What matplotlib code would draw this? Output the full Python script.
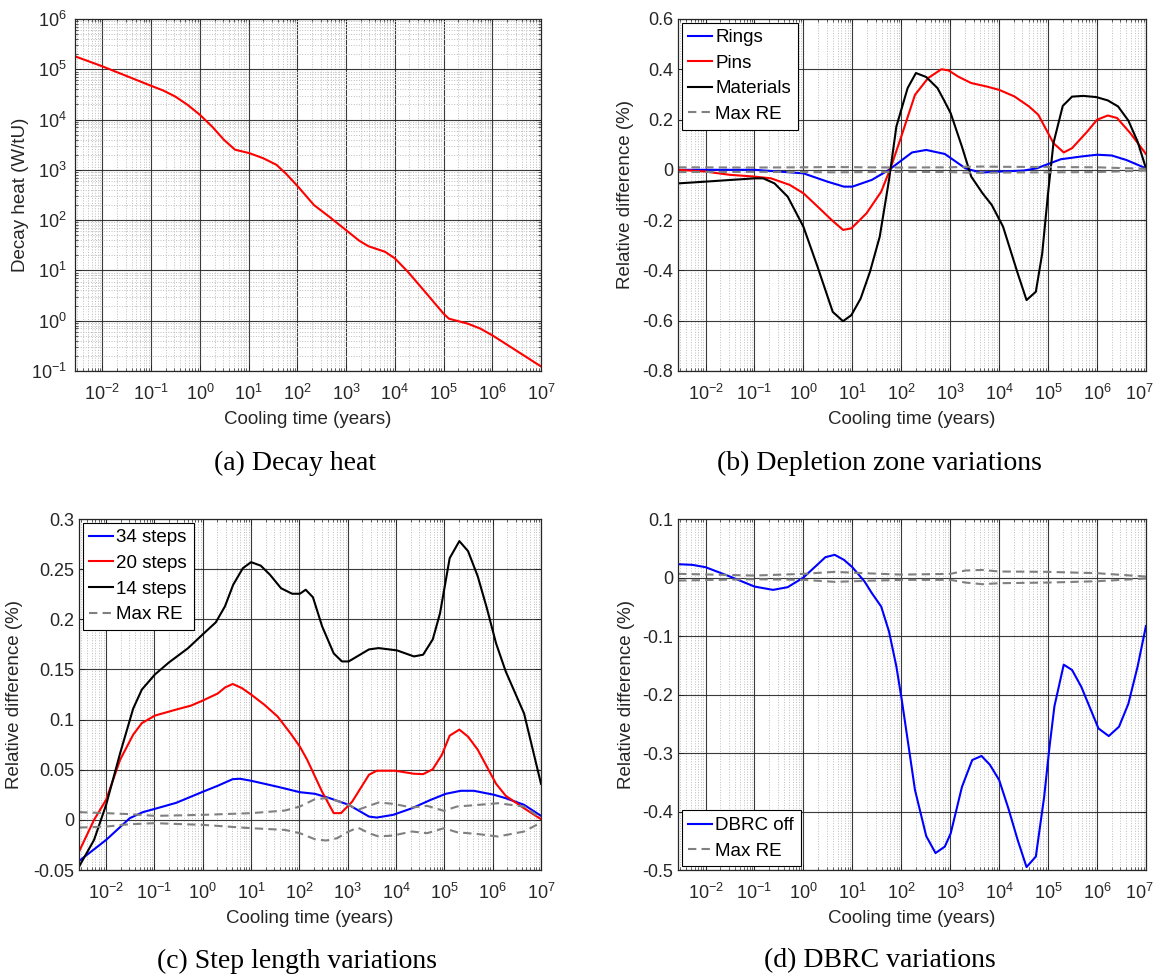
import numpy as np
import matplotlib
matplotlib.use("Agg")
import matplotlib.pyplot as plt
import matplotlib.transforms as mtransforms
from matplotlib.ticker import LogLocator, FixedLocator, FormatStrFormatter, NullFormatter

plt.rcParams['font.family'] = ['Liberation Sans', 'DejaVu Sans']
plt.rcParams['mathtext.fontset'] = 'custom'
plt.rcParams['mathtext.rm'] = 'Liberation Sans'
plt.rcParams['mathtext.it'] = 'Liberation Sans:italic'
plt.rcParams['axes.unicode_minus'] = False

# ---- (a) decay heat, log10 of time (years) and log10 of heat (W/tU)
a_logt = [-2.56, -2.0, -1.0, -0.76, -0.51, -0.25, 0.0, 0.25, 0.49, 0.72, 1.02, 1.3, 1.57,
          1.76, 2.01, 2.34, 2.65, 3.0, 3.27, 3.46, 3.8, 4.0, 4.27, 4.65, 5.0, 5.11, 5.5,
          5.75, 6.0, 6.42, 7.0]
a_logq = [5.256, 5.057, 4.67, 4.58, 4.46, 4.29, 4.094, 3.86, 3.60, 3.40, 3.33, 3.23, 3.10,
          2.93, 2.67, 2.30, 2.07, 1.80, 1.59, 1.48, 1.37, 1.24, 0.97, 0.54, 0.14, 0.04, -0.06,
          -0.155, -0.29, -0.55, -0.91]

# ---- (b) depletion zone variations (%)
rings_logt = [-2.56, -1.0, 0.0, 0.49, 0.83, 1.0, 1.4, 1.75, 2.22, 2.51, 2.89, 3.31, 3.62,
              4.0, 4.5, 4.77, 5.26, 5.68, 6.0, 6.3, 6.6, 7.0]
rings = [0.0, 0.0, -0.014, -0.047, -0.067, -0.067, -0.040, 0.0, 0.069, 0.079, 0.063, 0.006,
         -0.011, -0.007, -0.003, 0.006, 0.042, 0.053, 0.060, 0.057, 0.039, 0.006]

pins_logt = [-2.56, -2.0, -1.5, -1.0, -0.66, -0.28, 0.0, 0.29, 0.58, 0.81, 0.98, 1.29, 1.59,
             1.78, 2.0, 2.28, 2.55, 2.82, 2.97, 3.16, 3.43, 3.73, 4.0, 4.31, 4.61, 4.8, 5.11,
             5.32, 5.49, 5.8, 6.0, 6.22, 6.41, 6.68, 7.0]
pins = [0.0, -0.007, -0.020, -0.027, -0.034, -0.060, -0.093, -0.146, -0.200, -0.239, -0.233,
        -0.173, -0.087, 0.006, 0.132, 0.298, 0.365, 0.400, 0.395, 0.371, 0.345, 0.332, 0.318,
        0.292, 0.252, 0.219, 0.106, 0.069, 0.086, 0.152, 0.199, 0.216, 0.206, 0.146, 0.063]

mat_logt = [-2.56, -2.0, -1.0, -0.82, -0.59, -0.32, 0.0, 0.29, 0.6, 0.81, 0.98, 1.17, 1.36,
            1.56, 1.75, 1.9, 2.13, 2.3, 2.51, 2.74, 2.87, 3.01, 3.24, 3.43, 3.66, 3.85, 4.08,
            4.38, 4.56, 4.75, 4.88, 5.0, 5.11, 5.3, 5.49, 5.72, 5.99, 6.22, 6.43, 6.64, 6.83, 7.0]
materials = [-0.054, -0.047, -0.034, -0.034, -0.054, -0.107, -0.226, -0.386, -0.565, -0.602,
             -0.578, -0.512, -0.406, -0.266, -0.040, 0.172, 0.325, 0.385, 0.369, 0.325, 0.278,
             0.225, 0.092, -0.027, -0.093, -0.140, -0.226, -0.412, -0.518, -0.485, -0.333,
             -0.093, 0.106, 0.254, 0.291, 0.294, 0.289, 0.276, 0.252, 0.196, 0.112, 0.006]

b_re_logt = [-2.56, -1.0, 0.0, 0.64, 1.25, 2.01, 3.01, 3.31, 3.66, 4.0, 5.0, 6.0, 7.0]
b_re_up = [0.010, 0.009, 0.010, 0.011, 0.010, 0.009, 0.010, 0.012, 0.013, 0.012, 0.011, 0.010, 0.004]
b_re_lo = [-0.009, -0.008, -0.009, -0.010, -0.009, -0.008, -0.009, -0.011, -0.012, -0.011,
           -0.010, -0.009, -0.003]

# ---- (c) step length variations (%)
s34_logt = [-2.56, -2.0, -1.51, -1.24, -0.99, -0.55, 0.0, 0.31, 0.62, 0.77, 1.0, 1.55, 2.01,
            2.32, 2.63, 3.02, 3.44, 3.6, 3.94, 4.33, 4.72, 5.03, 5.34, 5.61, 6.03, 6.27, 6.65, 7.0]
s34 = [-0.041, -0.020, 0.0017, 0.0077, 0.011, 0.017, 0.028, 0.034, 0.0406, 0.041, 0.039,
       0.033, 0.0276, 0.026, 0.0216, 0.015, 0.0033, 0.0023, 0.005, 0.0116, 0.020, 0.026,
       0.029, 0.029, 0.025, 0.0216, 0.015, 0.004]

s20_logt = [-2.56, -2.25, -2.0, -1.71, -1.44, -1.26, -0.99, -0.55, -0.24, 0.0, 0.31, 0.46,
            0.62, 0.81, 1.0, 1.27, 1.55, 1.82, 2.01, 2.16, 2.47, 2.71, 2.86, 3.09, 3.44, 3.6,
            3.98, 4.37, 4.56, 4.76, 4.95, 5.11, 5.31, 5.49, 5.69, 5.88, 6.07, 6.27, 6.65, 7.0]
s20 = [-0.0316, 0.0, 0.020, 0.060, 0.085, 0.0965, 0.104, 0.110, 0.114, 0.119, 0.126, 0.132,
       0.1355, 0.1314, 0.125, 0.115, 0.103, 0.086, 0.073, 0.060, 0.028, 0.0067, 0.0067, 0.018,
       0.045, 0.049, 0.049, 0.046, 0.0456, 0.0505, 0.065, 0.084, 0.090, 0.083, 0.070, 0.053,
       0.036, 0.024, 0.0116, 0.0007]

s14_logt = [-2.56, -2.25, -2.0, -1.71, -1.44, -1.26, -0.99, -0.7, -0.31, 0.0, 0.27, 0.46,
            0.63, 0.83, 1.0, 1.2, 1.39, 1.62, 1.85, 2.01, 2.13, 2.28, 2.47, 2.71, 2.88, 3.02,
            3.44, 3.64, 4.02, 4.37, 4.56, 4.76, 4.91, 5.11, 5.31, 5.49, 5.69, 5.88, 6.07, 6.27,
            6.65, 7.0]
s14 = [-0.0466, -0.020, 0.015, 0.0665, 0.111, 0.130, 0.145, 0.157, 0.171, 0.185, 0.197,
       0.213, 0.2345, 0.251, 0.257, 0.2535, 0.2445, 0.231, 0.2255, 0.2255, 0.2295, 0.222,
       0.193, 0.166, 0.158, 0.158, 0.170, 0.1713, 0.169, 0.163, 0.1647, 0.180, 0.206, 0.261,
       0.278, 0.268, 0.243, 0.211, 0.176, 0.148, 0.106, 0.036]

c_re_logt = [-2.56, -2.0, -1.51, -0.99, 0.0, 1.0, 1.7, 2.01, 2.32, 2.55, 2.78, 3.02, 3.21,
             3.44, 3.64, 3.94, 4.33, 4.64, 4.99, 5.26, 5.72, 6.11, 6.65, 7.0]
c_re_up = [0.0077, 0.0067, 0.0057, 0.004, 0.005, 0.0067, 0.0093, 0.0133, 0.0206, 0.0216,
           0.019, 0.015, 0.010, 0.014, 0.0173, 0.016, 0.0123, 0.014, 0.009, 0.0133, 0.015,
           0.0166, 0.0133, 0.0017]
c_re_lo = [-0.0077, -0.0067, -0.0043, -0.0033, -0.005, -0.0083, -0.010, -0.0133, -0.0193,
           -0.0206, -0.0183, -0.0116, -0.0077, -0.0133, -0.0166, -0.0156, -0.0116, -0.0133,
           -0.0083, -0.0123, -0.0143, -0.0166, -0.0116, -0.0027]

# ---- (d) DBRC variations (%)
dbrc_logt = [-2.56, -2.27, -2.0, -1.5, -1.0, -0.62, -0.32, 0.0, 0.26, 0.45, 0.64, 0.83, 1.0,
             1.25, 1.4, 1.59, 1.75, 1.9, 2.01, 2.17, 2.28, 2.51, 2.7, 2.89, 3.01, 3.24, 3.45,
             3.64, 3.81, 4.0, 4.19, 4.38, 4.56, 4.75, 4.92, 5.03, 5.13, 5.32, 5.49, 5.68, 6.03,
             6.24, 6.45, 6.64, 6.83, 7.0]
dbrc = [0.0228, 0.0217, 0.0177, 0.0017, -0.0154, -0.0211, -0.0165, 0.0, 0.020, 0.0348,
        0.0388, 0.0302, 0.0177, -0.0068, -0.0268, -0.0496, -0.0924, -0.152, -0.209, -0.300,
        -0.363, -0.442, -0.471, -0.460, -0.4375, -0.358, -0.312, -0.305, -0.320, -0.346,
        -0.395, -0.449, -0.495, -0.477, -0.375, -0.289, -0.220, -0.149, -0.158, -0.187,
        -0.258, -0.271, -0.255, -0.216, -0.152, -0.083]

d_re_logt = [-2.56, -1.0, 0.0, 0.64, 1.25, 2.01, 3.01, 3.31, 3.66, 4.0, 5.0, 6.0, 7.0]
d_re_up = [0.0063, 0.0034, 0.0063, 0.0097, 0.0074, 0.005, 0.0063, 0.012, 0.013, 0.0103,
           0.0097, 0.0074, 0.0017]
d_re_lo = [-0.0051, -0.0029, -0.004, -0.0074, -0.0057, -0.004, -0.004, -0.0086, -0.0114,
           -0.0097, -0.0086, -0.0063, -0.0017]

xticks = [1e-2, 1e-1, 1e0, 1e1, 1e2, 1e3, 1e4, 1e5, 1e6, 1e7]
b_yticks = [-0.8, -0.6, -0.4, -0.2, 0, 0.2, 0.4, 0.6]
c_yticks = [-0.05, 0, 0.05, 0.1, 0.15, 0.2, 0.25, 0.3]
d_yticks = [-0.5, -0.4, -0.3, -0.2, -0.1, 0, 0.1]

dark = '#262626'
gray = '#808080'
FS = 13


def years(logt):
    return 10.0 ** np.array(logt)


def style_axis(ax, ylab, ylab_x, logy=False):
    ax.set_xscale('log')
    ax.set_xlim(1 / 365.0, 1e7)
    ax.xaxis.set_major_locator(FixedLocator(xticks))
    ax.xaxis.set_minor_locator(LogLocator(base=10, subs=np.arange(2, 10), numticks=30))
    ax.xaxis.set_minor_formatter(NullFormatter())
    ax.tick_params(which='both', direction='in', top=True, right=True, colors=dark,
                   labelsize=FS)
    ax.tick_params(which='major', length=4, width=0.7)
    ax.tick_params(which='minor', length=2, width=0.5)
    ax.tick_params(axis='x', which='major', pad=9)
    ax.grid(which='major', color=dark, lw=0.8, alpha=0.9)
    ax.grid(which='minor', axis='both' if logy else 'x', color='#bdbdbd', ls=':', lw=0.7)
    ax.set_axisbelow(True)
    for sp in ax.spines.values():
        sp.set_color(dark)
        sp.set_linewidth(0.9)
    ax.set_xlabel('Cooling time (years)', fontsize=13.5, color=dark, va='center')
    ax.xaxis.set_label_coords(0.5, -0.139)
    ax.set_ylabel(ylab, fontsize=13.5, color=dark, va='center')
    ax.yaxis.set_label_coords(ylab_x, 0.5)


def nudge_last_xlabel(ax, dx_px):
    # keep the 10^7 label inside the figure edge
    lab = ax.get_xticklabels()[-1]
    off = mtransforms.ScaledTranslation(dx_px / 100.0, 0, ax.figure.dpi_scale_trans)
    lab.set_transform(lab.get_transform() + off)


def add_legend(ax, loc):
    leg = ax.legend(loc=loc, fontsize=13.5, frameon=True, fancybox=False, edgecolor='k',
                    framealpha=1, handlelength=1.25, handletextpad=0.2, borderpad=0.35,
                    labelspacing=0.45, borderaxespad=0.2)
    leg.get_frame().set_linewidth(0.8)


fig = plt.figure(figsize=(11.56, 9.76), dpi=100)
ax_a = fig.add_axes([0.0649, 0.6199, 0.4031, 0.3607])
ax_b = fig.add_axes([0.5865, 0.6199, 0.4048, 0.3607])
ax_c = fig.add_axes([0.0683, 0.1086, 0.3997, 0.3596])
ax_d = fig.add_axes([0.5865, 0.1086, 0.4048, 0.3596])

# (a)
ax_a.plot(years(a_logt), 10.0 ** np.array(a_logq), color='r', lw=1.5)
ax_a.set_yscale('log')
ax_a.set_ylim(1e-1, 1e6)
ax_a.yaxis.set_major_locator(LogLocator(base=10, numticks=20))
ax_a.yaxis.set_minor_locator(LogLocator(base=10, subs=np.arange(2, 10), numticks=30))
ax_a.yaxis.set_minor_formatter(NullFormatter())
style_axis(ax_a, 'Decay heat (W/tU)', -0.116, logy=True)
ax_a.tick_params(axis='y', which='major', pad=6)

# (b)
ax_b.plot(years(rings_logt), rings, color='b', lw=1.5, label='Rings')
ax_b.plot(years(pins_logt), pins, color='r', lw=1.5, label='Pins')
ax_b.plot(years(mat_logt), materials, color='k', lw=1.5, label='Materials')
ax_b.plot(years(b_re_logt), b_re_up, color=gray, lw=1.5, ls='--', dashes=(4, 2.5), label='Max RE')
ax_b.plot(years(b_re_logt), b_re_lo, color=gray, lw=1.5, ls='--', dashes=(4, 2.5))
ax_b.set_ylim(-0.8, 0.6)
ax_b.yaxis.set_major_locator(FixedLocator(b_yticks))
ax_b.yaxis.set_major_formatter(FormatStrFormatter('%g'))
style_axis(ax_b, 'Relative difference (%)', -0.113)
add_legend(ax_b, 'upper left')

# (c)
ax_c.plot(years(s34_logt), s34, color='b', lw=1.5, label='34 steps')
ax_c.plot(years(s20_logt), s20, color='r', lw=1.5, label='20 steps')
ax_c.plot(years(s14_logt), s14, color='k', lw=1.5, label='14 steps')
ax_c.plot(years(c_re_logt), c_re_up, color=gray, lw=1.5, ls='--', dashes=(4, 2.5), label='Max RE')
ax_c.plot(years(c_re_logt), c_re_lo, color=gray, lw=1.5, ls='--', dashes=(4, 2.5))
ax_c.set_ylim(-0.05, 0.3)
ax_c.yaxis.set_major_locator(FixedLocator(c_yticks))
ax_c.yaxis.set_major_formatter(FormatStrFormatter('%g'))
style_axis(ax_c, 'Relative difference (%)', -0.139)
add_legend(ax_c, 'upper left')

# (d)
ax_d.plot(years(dbrc_logt), dbrc, color='b', lw=1.5, label='DBRC off')
ax_d.plot(years(d_re_logt), d_re_up, color=gray, lw=1.5, ls='--', dashes=(4, 2.5), label='Max RE')
ax_d.plot(years(d_re_logt), d_re_lo, color=gray, lw=1.5, ls='--', dashes=(4, 2.5))
ax_d.set_ylim(-0.5, 0.1)
ax_d.yaxis.set_major_locator(FixedLocator(d_yticks))
ax_d.yaxis.set_major_formatter(FormatStrFormatter('%g'))
style_axis(ax_d, 'Relative difference (%)', -0.111)
add_legend(ax_d, 'lower left')

fig.canvas.draw()
nudge_last_xlabel(ax_b, -7)
nudge_last_xlabel(ax_d, -7)

captions = ['(a) Decay heat', '(b) Depletion zone variations',
            '(c) Step length variations', '(d) DBRC variations']
cap_xy = [(0.255, 0.5256), (0.761, 0.5256), (0.257, 0.0154), (0.761, 0.0154)]
for txt, (cx, cy) in zip(captions, cap_xy):
    fig.text(cx, cy, txt, ha='center', va='center', fontsize=20,
             family=['Liberation Serif', 'DejaVu Serif'], color='k')

fig.savefig('out.png', dpi=100, facecolor='white')
